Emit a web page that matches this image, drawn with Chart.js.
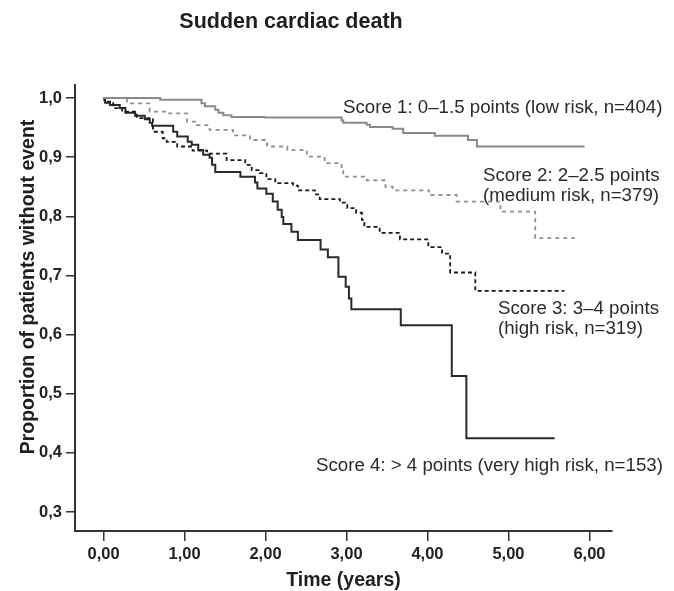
<!DOCTYPE html>
<html>
<head>
<meta charset="utf-8">
<title>Sudden cardiac death</title>
<script src="https://cdn.jsdelivr.net/npm/chart.js@4.4.1/dist/chart.umd.min.js"></script>
<style>
  body { margin: 0; background: #fff; }
  canvas { display: block; }
</style>
</head>
<body>
<canvas id="kmChart" width="674" height="591"></canvas>
<script>
// Kaplan-Meier curves (time in years, proportion without event)
const score1Time = [0, 0.70, 1.21, 1.25, 1.38, 1.42, 1.48, 1.58, 1.99, 2.94, 2.96, 3.25, 3.29, 3.57, 3.70, 4.09, 4.50, 4.61, 5.94];
const score1Surv = [1.0, 0.997, 0.991, 0.986, 0.980, 0.975, 0.971, 0.968, 0.967, 0.962, 0.958, 0.955, 0.951, 0.948, 0.941, 0.936, 0.929, 0.918, 0.918];

const score2Time = [0, 0.29, 0.57, 0.78, 1.03, 1.15, 1.31, 1.60, 1.81, 2.02, 2.27, 2.51, 2.73, 2.94, 2.96, 3.25, 3.48, 3.57, 4.02, 4.36, 4.90, 5.33, 5.82];
const score2Surv = [1.0, 0.991, 0.977, 0.974, 0.960, 0.954, 0.946, 0.937, 0.929, 0.918, 0.912, 0.901, 0.890, 0.878, 0.867, 0.861, 0.850, 0.844, 0.836, 0.825, 0.808, 0.763, 0.763];

const score3Time = [0, 0.01, 0.12, 0.23, 0.41, 0.61, 0.73, 0.78, 0.91, 1.10, 1.28, 1.52, 1.75, 1.83, 1.93, 2.01, 2.12, 2.34, 2.40, 2.61, 2.67, 2.92, 3.01, 3.12, 3.19, 3.22, 3.41, 3.66, 4.01, 4.18, 4.28, 4.59, 5.69];
const score3Surv = [1.0, 0.994, 0.983, 0.977, 0.966, 0.943, 0.932, 0.926, 0.918, 0.911, 0.906, 0.895, 0.887, 0.878, 0.873, 0.863, 0.856, 0.852, 0.844, 0.837, 0.829, 0.823, 0.814, 0.806, 0.794, 0.782, 0.772, 0.761, 0.748, 0.737, 0.705, 0.674, 0.674];

const score4Time = [0, 0.02, 0.08, 0.20, 0.27, 0.39, 0.51, 0.57, 0.60, 0.86, 0.91, 1.04, 1.09, 1.17, 1.23, 1.31, 1.34, 1.38, 1.69, 1.87, 1.90, 2.01, 2.09, 2.15, 2.20, 2.22, 2.32, 2.40, 2.68, 2.77, 2.90, 2.99, 3.03, 3.06, 3.67, 4.30, 4.48, 5.57];
const score4Surv = [1.0, 0.992, 0.988, 0.983, 0.975, 0.970, 0.964, 0.958, 0.953, 0.943, 0.935, 0.926, 0.921, 0.912, 0.904, 0.899, 0.887, 0.875, 0.867, 0.857, 0.847, 0.838, 0.825, 0.811, 0.799, 0.787, 0.774, 0.760, 0.744, 0.731, 0.698, 0.681, 0.661, 0.643, 0.616, 0.530, 0.425, 0.425];

const seriesNames = [
    ['Score 1: 0–1.5 points (low risk, n=404)'],
    ['Score 2: 2–2.5 points', '(medium risk, n=379)'],
    ['Score 3: 3–4 points', '(high risk, n=319)'],
    ['Score 4: > 4 points (very high risk, n=153)']
];

const xTickValues = [0, 1, 2, 3, 4, 5, 6];
const xTickLabels = ['0,00', '1,00', '2,00', '3,00', '4,00', '5,00', '6,00'];
const yTickValues = [0.3, 0.4, 0.5, 0.6, 0.7, 0.8, 0.9, 1.0];
const yTickLabels = ['0,3', '0,4', '0,5', '0,6', '0,7', '0,8', '0,9', '1,0'];

const chartTitle = 'Sudden cardiac death';
const xTitle = 'Time (years)';
const yTitle = 'Proportion of patients without event';

const FONT = '"Liberation Sans", Arial, Helvetica, sans-serif';

function toPoints(times, surv) {
    return times.map((t, i) => ({ x: t, y: surv[i] }));
}

// where each curve label sits, in data units (left edge, first baseline)
const labelAnchors = [
    { x: 2.957, y: 0.9746 },
    { x: 4.685, y: 0.8605 },
    { x: 4.870, y: 0.6348 },
    { x: 2.623, y: 0.3701 }
];

const textPlugin = {
    id: 'kmText',
    afterDraw(chart) {
        const ctx = chart.ctx;
        const xs = chart.scales.x;
        const ys = chart.scales.y;
        ctx.save();
        ctx.fillStyle = '#1f1f1f';
        ctx.textBaseline = 'alphabetic';

        // title
        ctx.font = 'bold 21.5px ' + FONT;
        ctx.textAlign = 'center';
        ctx.fillText(chartTitle, 291, 28);

        // axis titles
        ctx.font = 'bold 19.5px ' + FONT;
        ctx.fillText(xTitle, (chart.chartArea.left + chart.chartArea.right) / 2, 586);
        ctx.save();
        ctx.translate(34, 287);
        ctx.rotate(-Math.PI / 2);
        ctx.fillText(yTitle, 0, 0);
        ctx.restore();

        // curve labels
        ctx.font = '18.7px ' + FONT;
        ctx.fillStyle = '#2a2a2a';
        ctx.textAlign = 'left';
        seriesNames.forEach((lines, i) => {
            const px = xs.getPixelForValue(labelAnchors[i].x);
            const py = ys.getPixelForValue(labelAnchors[i].y);
            lines.forEach((line, j) => ctx.fillText(line, px, py + j * 20));
        });
        ctx.restore();
    }
};

document.addEventListener('DOMContentLoaded', function () {
    const ctx = document.getElementById('kmChart').getContext('2d');

    // horizontal first, then the drop at the event time
    const lineBase = {
        stepped: 'before',
        fill: false,
        pointRadius: 0,
        pointHoverRadius: 0,
        tension: 0
    };

    new Chart(ctx, {
        type: 'line',
        data: {
            datasets: [
                Object.assign({}, lineBase, {
                    label: seriesNames[0][0],
                    data: toPoints(score1Time, score1Surv),
                    borderColor: '#8a8a8a',
                    borderWidth: 2
                }),
                Object.assign({}, lineBase, {
                    label: seriesNames[1][0],
                    data: toPoints(score2Time, score2Surv),
                    borderColor: '#8f8f8f',
                    borderWidth: 1.8,
                    borderDash: [4, 4]
                }),
                Object.assign({}, lineBase, {
                    label: seriesNames[2][0],
                    data: toPoints(score3Time, score3Surv),
                    borderColor: '#1a1a1a',
                    borderWidth: 1.8,
                    borderDash: [4, 3]
                }),
                Object.assign({}, lineBase, {
                    label: seriesNames[3][0],
                    data: toPoints(score4Time, score4Surv),
                    borderColor: '#2a2a2a',
                    borderWidth: 2
                })
            ]
        },
        options: {
            responsive: false,
            animation: false,
            layout: { padding: { top: 85, right: 62, bottom: 0, left: 8 } },
            plugins: {
                legend: { display: false },
                tooltip: { enabled: false }
            },
            scales: {
                x: {
                    type: 'linear',
                    min: -0.352,
                    max: 6.278,
                    afterBuildTicks: s => { s.ticks = xTickValues.map(v => ({ value: v })); },
                    afterFit: s => { s.height = 60; },
                    grid: { drawOnChartArea: false, drawTicks: true, tickLength: 10, color: '#333', lineWidth: 1.5 },
                    border: { color: '#333', width: 2 },
                    ticks: {
                        padding: 4,
                        color: '#222',
                        font: { family: FONT, size: 16.5, weight: 'bold' },
                        callback: (v, i) => xTickLabels[i]
                    }
                },
                y: {
                    type: 'linear',
                    min: 0.268,
                    max: 1.022,
                    afterBuildTicks: s => { s.ticks = yTickValues.map(v => ({ value: v })); },
                    afterFit: s => { s.width = 67; },
                    grid: { drawOnChartArea: false, drawTicks: true, tickLength: 9, color: '#333', lineWidth: 1.5 },
                    border: { color: '#333', width: 2 },
                    ticks: {
                        padding: 4,
                        color: '#222',
                        font: { family: FONT, size: 16.5, weight: 'bold' },
                        callback: (v, i) => yTickLabels[i]
                    }
                }
            }
        },
        plugins: [textPlugin]
    });
});
</script>
</body>
</html>
